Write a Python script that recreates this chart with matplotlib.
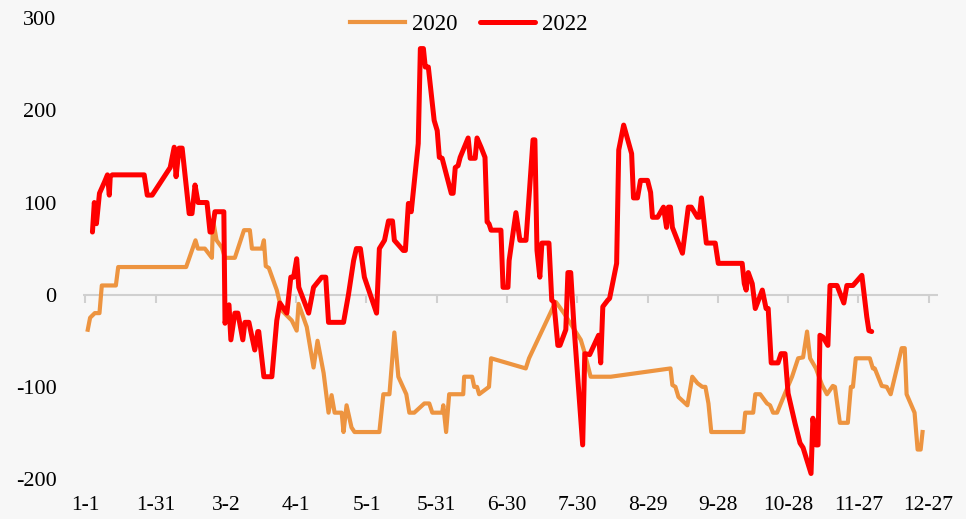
import matplotlib
matplotlib.use("Agg")
import matplotlib.pyplot as plt

# day of year (0 = 1-1) and value
days_2020 = [1, 2, 4, 6, 7, 13, 14, 43, 47, 48, 51, 54, 54.5, 56, 58.3, 59.6, 63.8, 67.7, 70.2, 71.1,
             75.3, 76.2, 77, 78.3, 81.7, 83.8, 88.1, 90.2, 91, 94.5, 97.4, 99.1, 101.7, 103.8, 105.1,
             106.4, 109.4, 110.2, 111.5, 113.6, 114.9, 125.5, 127.2, 129.8, 131.9, 133.6, 137, 138.3,
             140.4, 144.7, 146.8, 148.1, 152.3, 152.8, 154, 155.3, 161.3, 161.7, 165.1, 166, 167.2,
             168.1, 172.3, 173.2, 188, 189.4, 199.6, 200.9, 204.3, 211.5, 212.8, 215.7, 224.3, 249.8,
             250.6, 251.9, 253.2, 257, 259.1, 261.3, 263.4, 264.7, 266, 267.2, 280.9, 281.7, 285.1,
             286, 288.1, 291, 292.3, 293.6, 295.3, 298.7, 301.7, 304.3, 306.4, 308.1, 309.4, 311.9,
             314.5, 316.6, 319.1, 320, 322.1, 325.5, 326.8, 327.7, 328.9, 334.9, 336.2, 337, 340,
             342.1, 343.8, 348.5, 349.8, 350.6, 354, 355.3, 356.6, 357.4]
vals_2020 = [-38, -25, -20, -20, 10, 10, 30, 30, 59, 50, 50, 40, 81, 59, 51, 40, 40, 70, 70, 50,
             50, 59, 31, 29, 5, -17, -28, -39, -10, -35, -79, -50, -85, -128, -109,
             -128, -128, -149, -120, -144, -149, -149, -108, -108, -41, -89, -108, -128,
             -128, -118, -118, -128, -128, -120, -149, -108, -108, -89, -89, -100, -100,
             -108, -100, -69, -80, -69, -14, -8, -20, -49, -60, -89, -89, -80,
             -98, -100, -111, -120, -89, -96, -100, -100, -118, -149, -149, -128, -128,
             -108, -108, -118, -120, -128, -128, -107, -89, -69, -68, -40, -69, -80,
             -98, -108, -99, -100, -139, -139, -100, -100, -69, -69, -80, -80, -99,
             -100, -108, -58, -58, -108, -128, -168, -168, -149]

days_2022 = [3, 3.8, 4.7, 6, 8.1, 9.4, 10.2, 10.6, 11.5, 25.1, 26.4, 28.5, 36.2, 37.9, 38.7, 40, 41.3,
             44.3, 45.5, 46.8, 48.1, 51.9, 53.2, 54, 55.3, 57.4, 59.1, 59.6, 61.3, 62.1, 63.8, 65.1,
             67.2, 68.1, 69.8, 72.3, 73.6, 74, 76.2, 79.6, 81.7, 83, 86, 87.7, 88.9, 90.2, 91.1, 95.3,
             97.4, 100.9, 102.6, 103.8, 110.2, 112.3, 114.5, 115.7, 117.4, 119.1, 124.3, 125.5, 127.7,
             129.4, 131.1, 131.9, 135.7, 136.6, 137.9, 139.1, 142.1, 143, 144.3, 145.1, 146.4, 148.9,
             150.2, 151.1, 152.3, 156.2, 157, 157.9, 159.1, 160, 163.4, 164.3, 166.4, 167.2, 168.9,
             170.6, 171.5, 172.3, 173.2, 177.4, 178.3, 180.4, 180.9, 183.8, 185.5, 188.1, 191.1, 191.9,
             192.8, 194, 194.9, 197.9, 199.1, 200, 201.7, 202.6, 205.1, 206, 207.2, 208.5, 212.3, 213.2,
             215.3, 219.1, 220, 220.9, 223, 223.8, 226.8, 227.7, 229.8, 233.2, 234, 235.7, 237, 240,
             241.3, 242.1, 244.3, 246.8, 248.1, 248.9, 249.8, 250.6, 254.9, 257.4, 258.7, 261.3, 262.1,
             263, 265.1, 268.9, 270.2, 280.4, 281.3, 282.1, 283, 284.7, 286, 289, 290.6, 291.5, 292.8,
             295.7, 297, 298.7, 300, 303, 305.1, 306.4, 309.8, 310.6, 311.9, 312.8, 313.6, 314.9, 317,
             317.9, 320.9, 323.8, 325.1, 327.7, 331.5, 333.6, 334.5, 335.7]
vals_2022 = [68, 100, 77, 110, 122, 130, 108, 128, 130, 130, 108, 108, 138, 160, 128, 159, 159,
             88, 88, 119, 100, 100, 68, 68, 90, 90, 90, -31, -11, -49, -20, -20,
             -49, -30, -30, -60, -40, -40, -89, -89, -28, -9, -20, 19, 19, 39, 8, -20,
             8, 19, 19, -30, -30, 0, 37, 50, 50, 19, -20, 50, 59,
             80, 80, 59, 48, 48, 99, 90, 164, 267, 267, 247, 247, 189,
             178, 149, 148, 110, 110, 138, 140, 149, 170, 148, 148, 170, 160,
             149, 79, 77, 70, 70, 8, 8, 37, 89, 59, 59, 168, 168,
             48, 19, 56, 56, -6, -8, -55, -55, -38, 24, 24, -31, -163, -64,
             -65, -44, -74, -13, -6, -4, 34, 157, 184, 153, 105, 105, 124, 124,
             111, 84, 84, 95, 73, 95, 95, 73, 45, 95, 95, 84, 84,
             105, 56, 56, 34, 34, 12, 5, 24, 12, -15, 5, -15, -15, -74,
             -74, -64, -64, -107, -140, -161, -166, -194, -134, -163, -163, -44, -46, -55,
             10, 10, -9, 10, 10, 21, -24, -39, -40]

tick_days = [0, 30, 60, 90, 120, 150, 180, 210, 240, 270, 300, 330, 360]
tick_labels = ['1-1', '1-31', '3-2', '4-1', '5-1', '5-31', '6-30', '7-30', '8-29', '9-28',
               '10-28', '11-27', '12-27']

plt.rcParams['font.family'] = ['Liberation Serif', 'DejaVu Serif']
plt.rcParams['axes.unicode_minus'] = False

bg = '#F7F7F7'
fig = plt.figure(figsize=(9.66, 5.19), dpi=100, facecolor=bg)
ax = fig.add_axes([0.086, 0.077, 0.885, 0.888], facecolor=bg)

ax.axhline(0, color='#D0D0D0', lw=1.5, zorder=1)
ax.plot(tick_days, [0] * len(tick_days), ls='none', marker=3, ms=6, mew=1.5,
        color='#D0D0D0', zorder=1)

ax.plot(days_2020, vals_2020, color='#ED9440', lw=3.0, label='2020', zorder=2)
ax.plot(days_2022, vals_2022, color='#FF0000', lw=3.6, label='2022', zorder=3,
        solid_capstyle='round')

ax.set_xlim(-1, 364)
ax.set_ylim(-200, 300)
ax.set_yticks([-200, -100, 0, 100, 200, 300])
ax.set_xticks(tick_days)
ax.set_xticklabels(tick_labels)
ax.tick_params(axis='x', length=0, pad=12, labelsize=15.5)
ax.tick_params(axis='y', length=0, pad=19, labelsize=16)
for s in ax.spines.values():
    s.set_visible(False)

fig.legend(loc='center', bbox_to_anchor=(0.485, 0.952), ncol=2, frameon=False,
           fontsize=16.5, handlelength=2.4, columnspacing=1.0, handletextpad=0.3)

fig.savefig('out.png', dpi=100, facecolor=bg)
